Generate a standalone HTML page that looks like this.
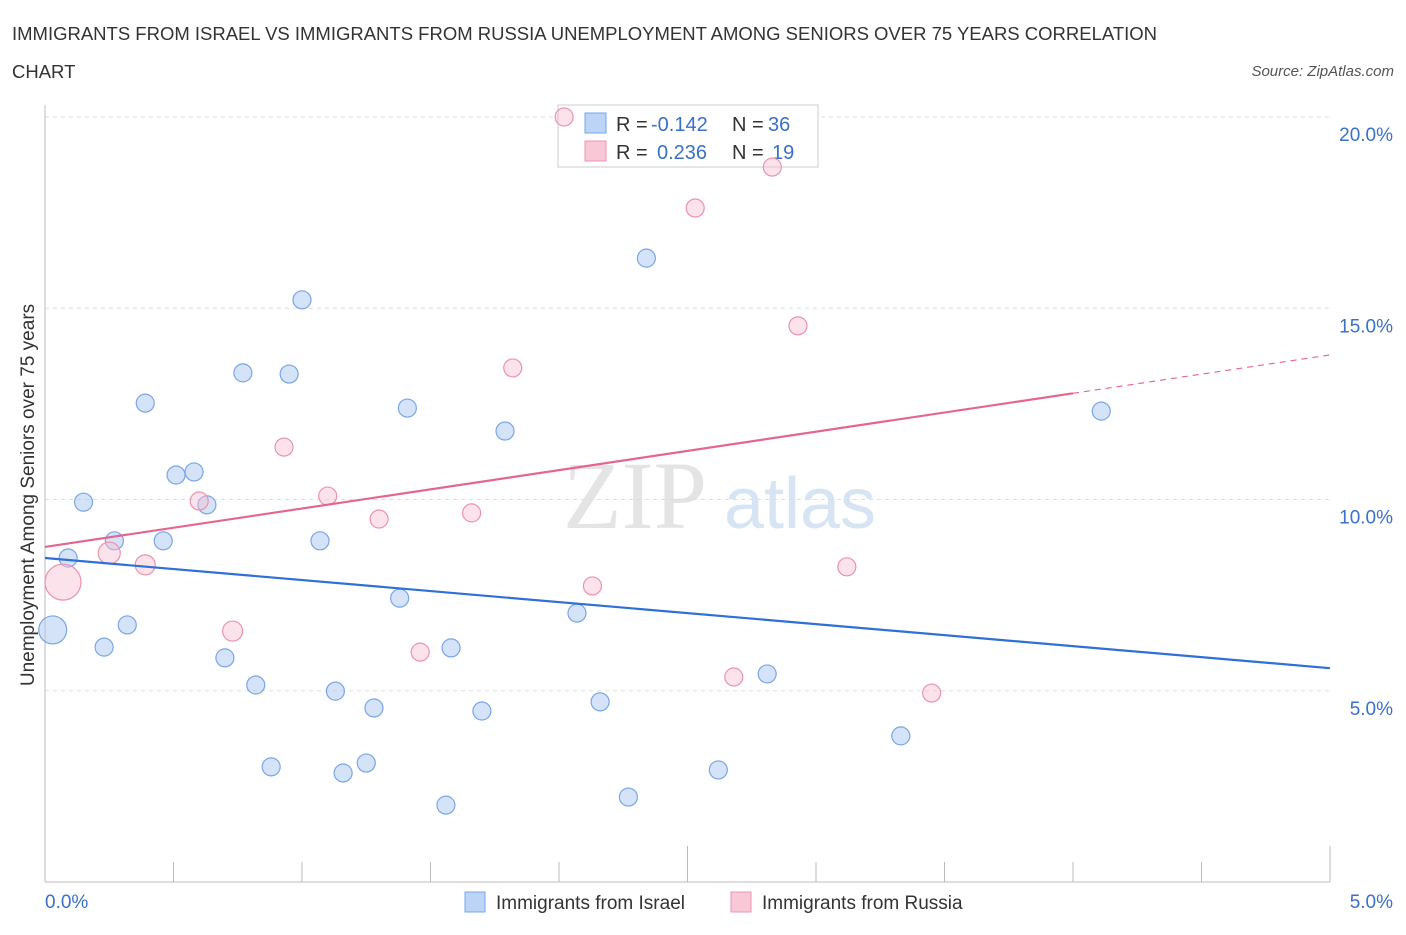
<!DOCTYPE html>
<html><head><meta charset="utf-8"><style>
body{margin:0;background:#fff;font-family:"Liberation Sans",sans-serif}
</style></head><body>
<svg width="1406" height="930" viewBox="0 0 1406 930" xmlns="http://www.w3.org/2000/svg">
<text x="12" y="40" font-size="18.5" fill="#333" textLength="1145">IMMIGRANTS FROM ISRAEL VS IMMIGRANTS FROM RUSSIA UNEMPLOYMENT AMONG SENIORS OVER 75 YEARS CORRELATION</text>
<text x="12" y="78" font-size="18.5" fill="#333">CHART</text>
<text x="1394" y="76" font-size="15" font-style="italic" fill="#555" text-anchor="end">Source: ZipAtlas.com</text>
<text x="635" y="528" font-size="96" font-family="Liberation Serif,serif" fill="#e4e4e4" text-anchor="middle">ZIP</text>
<text x="800" y="528" font-size="72" fill="#d7e4f4" text-anchor="middle">atlas</text>
<g id="grid"></g>
<g id="axes"></g>
<g>
<rect x="558" y="105" width="260" height="62" fill="#fff" stroke="#ccc"/>
<rect x="585" y="113" width="21" height="20" fill="#bcd4f5" stroke="#7aa5e6"/>
<rect x="585" y="141" width="21" height="20" fill="#f9c8d6" stroke="#eb93ad"/>
<text x="616" y="131" font-size="20" fill="#333">R = <tspan x="651" fill="#3a70c8">-0.142</tspan><tspan x="732">N = </tspan><tspan x="768" fill="#3a70c8">36</tspan></text>
<text x="616" y="159" font-size="20" fill="#333">R = <tspan x="657" fill="#3a70c8">0.236</tspan><tspan x="732">N = </tspan><tspan x="772" fill="#3a70c8">19</tspan></text>
</g>
<g id="pts"></g>
<g id="lines"></g>
<text x="28" y="495" font-size="19" fill="#333" text-anchor="middle" transform="rotate(-90 28 495)" dy="6">Unemployment Among Seniors over 75 years</text>
<text x="45" y="908" font-size="19" fill="#3a70c8">0.0%</text>
<text x="1393" y="908" font-size="19" fill="#3a70c8" text-anchor="end">5.0%</text>
<g>
<rect x="465" y="892" width="20" height="20" fill="#bcd4f5" stroke="#7aa5e6"/>
<text x="496" y="909" font-size="19" fill="#333">Immigrants from Israel</text>
<rect x="731" y="892" width="20" height="20" fill="#f9c8d6" stroke="#eb93ad"/>
<text x="762" y="909" font-size="19" fill="#333">Immigrants from Russia</text>
</g>
</svg>
<script>
const israelX=[0.03,0.09,0.15,0.23,0.27,0.32,0.39,0.46,0.51,0.58,0.63,0.70,0.77,0.82,0.88,0.95,1.00,1.07,1.13,1.16,1.25,1.28,1.38,1.41,1.56,1.58,1.70,1.79,2.07,2.16,2.27,2.34,2.62,2.81,3.33,4.11];
const israelY=[6.59,8.47,9.93,6.14,8.92,6.72,12.52,8.92,10.64,10.72,9.86,5.86,13.31,5.15,3.01,13.28,15.22,8.92,4.99,2.85,3.11,4.55,7.42,12.39,2.01,6.12,4.47,11.79,7.03,4.71,2.22,16.31,2.93,5.44,3.82,12.31];
const israelR=[14,9,9,9,9,9,9,9,9,9,9,9,9,9,9,9,9,9,9,9,9,9,9,9,9,9,9,9,9,9,9,9,9,9,9,9];
const russiaX=[0.07,0.25,0.39,0.60,0.73,0.93,1.10,1.30,1.46,1.66,1.82,2.02,2.13,2.53,2.68,2.83,2.93,3.12,3.45];
const russiaY=[7.84,8.60,8.29,9.96,6.56,11.37,10.09,9.49,6.01,9.65,13.44,20.0,7.74,17.62,5.36,18.69,14.54,8.24,4.94];
const russiaR=[18,11,10,9,10,9,9,9,9,9,9,9,9,9,9,9,9,9,9];
const yTicks=[5,10,15,20];
const xTicks=[0,0.5,1,1.5,2,2.5,3,3.5,4,4.5,5];
const israelTrend=[8.47,5.59];
const russiaTrend=[8.76,13.78];
const NS="http://www.w3.org/2000/svg";
const sx=v=>45+v*257, sy=v=>882-v*38.25;
function mk(t,a,p){const e=document.createElementNS(NS,t);for(const k in a)e.setAttribute(k,a[k]);document.getElementById(p).appendChild(e);return e;}
yTicks.forEach(v=>{
 const l=mk('line',{x1:45,x2:1330,y1:sy(v),y2:sy(v),stroke:'#ddd','stroke-dasharray':'4 4'},'grid');
 
 
 const t=mk('text',{x:1393,y:sy(v)+24,'font-size':19,fill:'#3a70c8','text-anchor':'end'},'grid');
 t.textContent=v.toFixed(1)+'%';
 
 
});
const ax=mk('line',{x1:45,x2:45,y1:105,y2:882,stroke:'#bbb'},'axes');


const bx=mk('line',{x1:45,x2:1330,y1:882,y2:882,stroke:'#bbb'},'axes');


xTicks.forEach(v=>{
 const big=(v===2.5||v===5);
 const t=mk('line',{x1:sx(v),x2:sx(v),y1:882,y2:big?846:862,stroke:'#bbb'},'axes');
 
 
});
israelX.forEach((x,i)=>{
 const c=mk('circle',{cx:sx(x),cy:sy(israelY[i]),r:israelR[i],fill:'rgba(170,200,240,0.5)',stroke:'#7aa5e6','stroke-width':1.2},'pts');
 
 
});
russiaX.forEach((x,i)=>{
 const c=mk('circle',{cx:sx(x),cy:sy(russiaY[i]),r:russiaR[i],fill:'rgba(248,190,208,0.45)',stroke:'#eb93ad','stroke-width':1.2},'pts');
 
 
});
const bl=mk('line',{x1:sx(0),y1:sy(israelTrend[0]),x2:sx(5),y2:sy(israelTrend[1]),stroke:'#2f6fd6','stroke-width':2.2},'lines');


const rAt=x=>russiaTrend[0]+(russiaTrend[1]-russiaTrend[0])*x/5;
const rl=mk('line',{x1:sx(0),y1:sy(rAt(0)),x2:sx(4),y2:sy(rAt(4)),stroke:'#e4668e','stroke-width':2.2},'lines');


const rd=mk('line',{x1:sx(4),y1:sy(rAt(4)),x2:sx(5),y2:sy(rAt(5)),stroke:'#e4668e','stroke-width':1.2,'stroke-dasharray':'6 5'},'lines');


</script>
</body></html>
